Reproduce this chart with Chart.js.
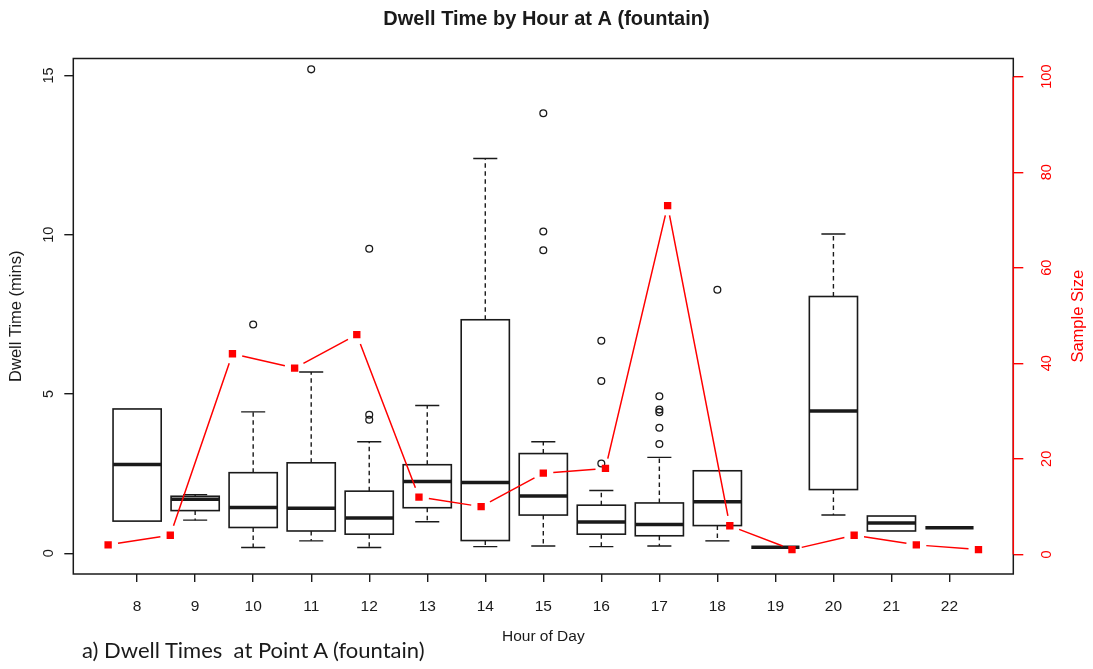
<!DOCTYPE html>
<html>
<head>
<meta charset="utf-8">
<title>Dwell Time by Hour at A (fountain)</title>
<script src="https://cdn.jsdelivr.net/npm/chart.js@4.4.1/dist/chart.umd.min.js"></script>
<style>
  html, body { margin: 0; padding: 0; background: #fff; }
  #wrap { position: relative; width: 1093px; height: 669px; }
  #chart { position: absolute; left: 0; top: 0; }
  #caption {
    position: absolute; left: 82px; top: 637px;
    font: 22px/26px Lato, sans-serif; color: #1a1a1a; white-space: pre;
  }
</style>
</head>
<body>
<div id="wrap">
  <canvas id="chart" width="1093" height="669"></canvas>
  <div id="caption">a) Dwell Times  at Point A (fountain)</div>
</div>
<script>
// hour of day, one box per hour
const hours = ['8', '9', '10', '11', '12', '13', '14', '15', '16', '17', '18', '19', '20', '21', '22'];

// box plot summaries (minutes)
const whiskerLow  = [1.01, 1.04, 0.18, 0.39, 0.18, 0.99, 0.21, 0.23, 0.21, 0.23, 0.39, 0.19, 1.20, 0.70, 0.80];
const lowerQuart  = [1.01, 1.34, 0.81, 0.70, 0.60, 1.43, 0.40, 1.20, 0.60, 0.55, 0.87, 0.19, 2.00, 0.70, 0.80];
const medians     = [2.79, 1.70, 1.44, 1.41, 1.11, 2.25, 2.22, 1.80, 0.98, 0.90, 1.62, 0.19, 4.47, 0.95, 0.80];
const upperQuart  = [4.53, 1.79, 2.53, 2.84, 1.95, 2.78, 7.33, 3.13, 1.51, 1.58, 2.59, 0.19, 8.06, 1.17, 0.80];
const whiskerHigh = [4.53, 1.84, 4.44, 5.69, 3.50, 4.64, 12.39, 3.50, 1.97, 3.01, 2.59, 0.19, 10.02, 1.17, 0.80];
const outliers = [
  [], [], [7.18], [15.19], [9.56, 4.35, 4.19], [], [],
  [13.81, 10.10, 9.51], [6.67, 5.41, 2.82], [3.43, 3.94, 4.43, 4.51, 4.93],
  [8.27], [], [], [], []
];

// sample size per hour (right axis)
const sampleSize = [2, 4, 42, 39, 46, 12, 10, 17, 18, 73, 6, 1, 4, 2, 1];

// tick labels
const dwellTicks = [0, 5, 10, 15];
const sizeTicks = [0, 20, 40, 60, 80, 100];

const INK = '#1a1a1a';
const RED = '#ff0000';
const BOX_W = 0.83;   // box width in x units
const GAP = 10;       // px left open round each square, like R type="b"

Chart.defaults.font.family = "'Liberation Sans', Arial, sans-serif";

// boxes, whiskers and medians drawn through the x / y scales
const boxPlugin = {
  id: 'boxes',
  beforeDatasetsDraw(chart) {
    const { ctx, chartArea: a } = chart;
    const x = chart.scales.x, y = chart.scales.y, y2 = chart.scales.y2;
    ctx.save();

    // plot frame
    ctx.strokeStyle = INK;
    ctx.lineWidth = 1.5;
    ctx.strokeRect(a.left, a.top, a.right - a.left, a.bottom - a.top);

    hours.forEach((h, i) => {
      const cx = x.getPixelForValue(i + 1);
      const hw = x.getPixelForValue(i + 1 + BOX_W / 2) - cx;
      const yLo = y.getPixelForValue(whiskerLow[i]);
      const yQ1 = y.getPixelForValue(lowerQuart[i]);
      const yMed = y.getPixelForValue(medians[i]);
      const yQ3 = y.getPixelForValue(upperQuart[i]);
      const yHi = y.getPixelForValue(whiskerHigh[i]);
      const hasHi = whiskerHigh[i] > upperQuart[i];
      const hasLo = whiskerLow[i] < lowerQuart[i];

      ctx.strokeStyle = INK;
      ctx.lineWidth = 1.4;

      // dashed whiskers
      ctx.setLineDash([4.5, 3.5]);
      ctx.beginPath();
      if (hasHi) { ctx.moveTo(cx, yQ3); ctx.lineTo(cx, yHi); }
      if (hasLo) { ctx.moveTo(cx, yQ1); ctx.lineTo(cx, yLo); }
      ctx.stroke();
      ctx.setLineDash([]);

      // staples
      ctx.beginPath();
      if (hasHi) { ctx.moveTo(cx - hw / 2, yHi); ctx.lineTo(cx + hw / 2, yHi); }
      if (hasLo) { ctx.moveTo(cx - hw / 2, yLo); ctx.lineTo(cx + hw / 2, yLo); }
      ctx.stroke();

      // box
      ctx.lineWidth = 1.6;
      if (upperQuart[i] > lowerQuart[i]) {
        ctx.strokeRect(cx - hw, yQ3, 2 * hw, yQ1 - yQ3);
      }

      // median
      ctx.lineWidth = 3.5;
      ctx.beginPath();
      ctx.moveTo(cx - hw, yMed);
      ctx.lineTo(cx + hw, yMed);
      ctx.stroke();
    });

    // red right axis line, only between first and last tick
    ctx.strokeStyle = RED;
    ctx.lineWidth = 1.4;
    ctx.beginPath();
    ctx.moveTo(a.right, y2.getPixelForValue(sizeTicks[0]));
    ctx.lineTo(a.right, y2.getPixelForValue(sizeTicks[sizeTicks.length - 1]));
    ctx.stroke();
    ctx.restore();
  },

  // red connecting line with gaps at the points
  beforeDatasetDraw(chart, args) {
    if (args.meta.yAxisID !== 'y2') return;
    const ctx = chart.ctx;
    const pts = args.meta.data;
    ctx.save();
    ctx.strokeStyle = RED;
    ctx.lineWidth = 1.5;
    ctx.beginPath();
    for (let i = 0; i < pts.length - 1; i++) {
      const p = pts[i], q = pts[i + 1];
      const dx = q.x - p.x, dy = q.y - p.y;
      const len = Math.hypot(dx, dy);
      if (len <= 2 * GAP) continue;
      const ux = dx / len, uy = dy / len;
      ctx.moveTo(p.x + ux * GAP, p.y + uy * GAP);
      ctx.lineTo(q.x - ux * GAP, q.y - uy * GAP);
    }
    ctx.stroke();
    ctx.restore();
  },

  // right axis title reads bottom to top, as in R
  afterDraw(chart) {
    const { ctx, chartArea: a } = chart;
    ctx.save();
    ctx.translate(1078, (a.top + a.bottom) / 2);
    ctx.rotate(-Math.PI / 2);
    ctx.fillStyle = RED;
    ctx.font = "16.5px 'Liberation Sans', Arial, sans-serif";
    ctx.textAlign = 'center';
    ctx.textBaseline = 'middle';
    ctx.fillText('Sample Size', 0, 0);
    ctx.restore();
  }
};

const outlierPoints = outliers.flatMap((vals, i) => vals.map(v => ({ x: i + 1, y: v })));
const sizePoints = sampleSize.map((n, i) => ({ x: i + 1, y: n }));

new Chart(document.getElementById('chart'), {
  type: 'scatter',
  data: {
    datasets: [
      {
        type: 'scatter',
        label: 'outliers',
        data: outlierPoints,
        xAxisID: 'x',
        yAxisID: 'y',
        pointStyle: 'circle',
        pointRadius: 3.4,
        pointBorderWidth: 1.3,
        pointBorderColor: INK,
        pointBackgroundColor: 'rgba(0,0,0,0)',
        order: 2
      },
      {
        type: 'line',
        label: 'Sample Size',
        data: sizePoints,
        xAxisID: 'x2',
        yAxisID: 'y2',
        showLine: false,
        pointStyle: 'rect',
        pointRadius: 5.2,
        pointBorderWidth: 0,
        pointBackgroundColor: RED,
        borderColor: RED,
        order: 1
      }
    ]
  },
  options: {
    responsive: false,
    animation: false,
    events: [],
    layout: { padding: { top: 0, left: 0, right: 0, bottom: 20 } },
    plugins: {
      legend: { display: false },
      tooltip: { enabled: false },
      title: {
        display: true,
        text: 'Dwell Time by Hour at A (fountain)',
        color: INK,
        font: { size: 20, weight: 'bold' },
        padding: { top: 7.5, bottom: 27 }
      }
    },
    scales: {
      x: {
        type: 'linear',
        position: 'bottom',
        min: -0.1,
        max: 16.1,
        afterBuildTicks: s => { s.ticks = hours.map((h, i) => ({ value: i + 1 })); },
        afterFit: s => { s.height = 75; },
        ticks: {
          autoSkip: false, minRotation: 0, maxRotation: 0, padding: 15,
          color: INK, font: { size: 15.5 },
          callback: (v, i) => hours[i]
        },
        grid: { drawOnChartArea: false, tickLength: 8, color: INK, lineWidth: 1.4 },
        border: { display: false },
        title: {
          display: true, text: 'Hour of Day', color: INK,
          font: { size: 15.5 }, padding: { top: 0, bottom: 2.5 }
        }
      },
      x2: { type: 'linear', display: false, min: 0.44, max: 15.56 },
      y: {
        type: 'linear',
        position: 'left',
        min: -0.65,
        max: 15.53,
        afterBuildTicks: s => { s.ticks = dwellTicks.map(v => ({ value: v })); },
        afterFit: s => { s.width = 73.3; },
        ticks: {
          autoSkip: false, minRotation: 90, maxRotation: 90, crossAlign: 'center',
          padding: 7, color: INK, font: { size: 14.5 }
        },
        grid: { drawOnChartArea: false, tickLength: 9, color: INK, lineWidth: 1.4 },
        border: { display: false },
        title: {
          display: true, text: 'Dwell Time (mins)', color: INK,
          font: { size: 16.5 }, padding: { top: 6.8, bottom: 0 }
        }
      },
      y2: {
        type: 'linear',
        position: 'right',
        min: -4.1,
        max: 103.8,
        afterBuildTicks: s => { s.ticks = sizeTicks.map(v => ({ value: v })); },
        afterFit: s => { s.width = 1093 - 1013.3; },
        ticks: {
          autoSkip: false, minRotation: 90, maxRotation: 90, crossAlign: 'center',
          padding: 11.5, color: RED, font: { size: 14.5 }
        },
        grid: { drawOnChartArea: false, tickLength: 10, color: RED, lineWidth: 1.4 },
        border: { display: false }
      }
    }
  },
  plugins: [boxPlugin]
});
</script>
</body>
</html>
